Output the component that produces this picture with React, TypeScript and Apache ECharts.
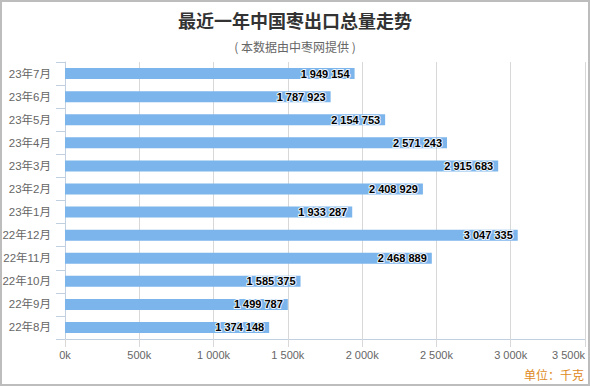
import React, { useEffect, useRef } from "react";
import * as echarts from "echarts";

const titleText = "最近一年中国枣出口总量走势";
const subtitleText = "( 本数据由中枣网提供 )";
const unitText = "单位：千克";

const months = [
  "23年7月", "23年6月", "23年5月", "23年4月", "23年3月", "23年2月",
  "23年1月", "22年12月", "22年11月", "22年10月", "22年9月", "22年8月",
];
const exportValues = [
  1949154, 1787923, 2154753, 2571243, 2915683, 2408929,
  1933287, 3047335, 2468889, 1585375, 1499787, 1374148,
];
const axisMax = 3500000;
const axisStep = 500000;

const group = (n: number) => String(n).replace(/\B(?=(\d{3})+(?!\d))/g, " ");

export default function App() {
  const ref = useRef<HTMLDivElement>(null);
  useEffect(() => {
    if (!ref.current) return;
    const chart = echarts.init(ref.current, null, { renderer: "svg" });
    const font = '"Liberation Sans", Arial, "Noto Sans CJK SC", sans-serif';
    chart.setOption({
      animation: false,
      textStyle: { fontFamily: font },
      title: [
        {
          text: titleText,
          left: "center",
          top: 6,
          textStyle: { fontSize: 18, fontWeight: "bold", color: "#333333", fontFamily: '"Noto Sans CJK SC", sans-serif' },
        },
        {
          text: subtitleText,
          left: "center",
          top: 35,
          textStyle: { fontSize: 12, fontWeight: "normal", color: "#666666", fontFamily: '"Noto Sans CJK SC", sans-serif' },
        },
      ],
      graphic: [
        {
          type: "rect",
          shape: { x: 1, y: 1, width: 588, height: 384 },
          style: { fill: "none", stroke: "#BDBDBD", lineWidth: 2 },
          silent: true,
        },
        {
          type: "text",
          right: 6,
          top: 368,
          style: {
            text: unitText,
            fill: "#DE8A22",
            fontSize: 12,
            fontFamily: '"Noto Sans CJK SC", sans-serif',
          },
        },
      ],
      grid: { left: 65, right: 5, top: 62, bottom: 47, containLabel: false, outerBoundsMode: "none" },
      xAxis: {
        type: "value",
        min: 0,
        max: axisMax,
        interval: axisStep,
        axisLine: { show: true, lineStyle: { color: "#C0D0E0" } },
        axisTick: { show: true, length: 8, lineStyle: { color: "#D8D8D8" } },
        splitLine: { show: true, lineStyle: { color: "#D8D8D8", width: 1 } },
        axisLabel: {
          color: "#666666",
          fontSize: 11,
          margin: 10,
          alignMaxLabel: "right",
          formatter: (v: number) => group(v / 1000) + "k",
        },
      },
      yAxis: {
        type: "category",
        data: months,
        inverse: true,
        axisLine: { show: true, lineStyle: { color: "#C0D0E0" } },
        axisTick: { show: true, length: 9, lineStyle: { color: "#C0D0E0" } },
        axisLabel: { color: "#666666", fontSize: 11.5, margin: 14, fontFamily: '"Liberation Sans", "Noto Sans CJK SC", sans-serif' },
      },
      series: [
        {
          type: "bar",
          data: exportValues,
          barWidth: 11,
          itemStyle: { color: "#7CB5EC" },
          label: {
            show: true,
            position: "insideRight",
            distance: 5,
            color: "#000000",
            fontWeight: "bold",
            fontSize: 11,
            textBorderColor: "rgba(255,255,255,0.85)",
            textBorderWidth: 2,
            formatter: (p: any) => group(p.value),
          },
        },
      ],
    });
    return () => chart.dispose();
  }, []);
  return (
    <div
      ref={ref}
      style={{ position: "fixed", left: 0, top: 0, width: 590, height: 386, background: "#fff" }}
    />
  );
}
